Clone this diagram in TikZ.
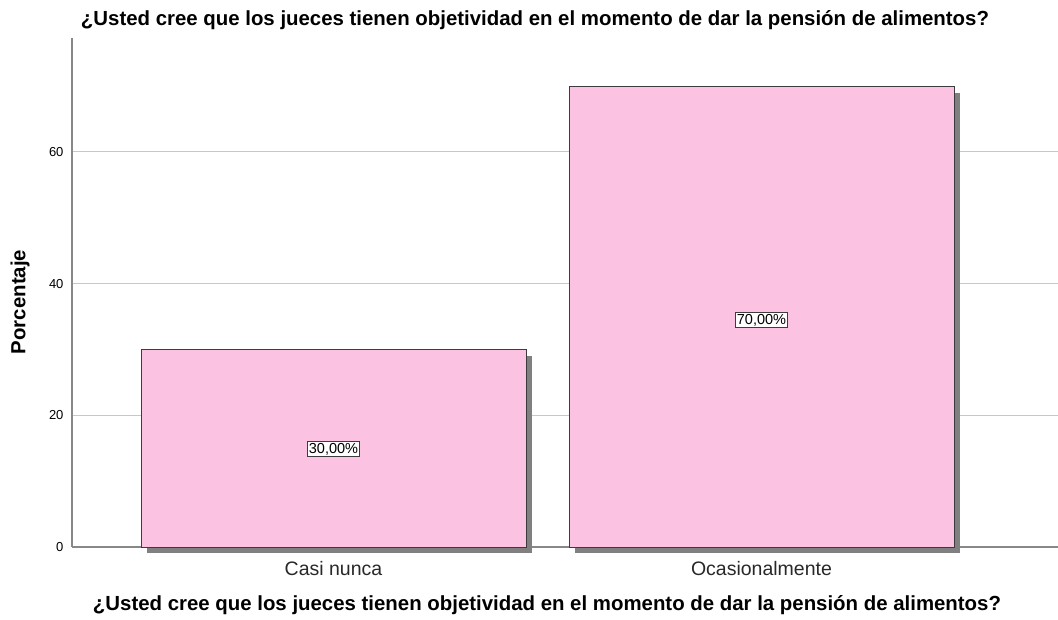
\documentclass[tikz,border=0pt]{standalone}
\usepackage{fontspec}
\setmainfont{Liberation Sans}

\definecolor{barpink}{RGB}{252,194,225}
\definecolor{shadowgray}{RGB}{128,128,128}
\definecolor{gridgray}{RGB}{200,200,200}
\definecolor{axisgray}{RGB}{136,136,136}
\definecolor{edgegray}{RGB}{60,60,60}
\definecolor{textgray}{RGB}{40,40,40}

\tikzset{
	gridline/.style={gridgray, line width=1pt},
	axisline/.style={axisgray, line width=1.2pt},
	barbox/.style={fill=barpink, draw=edgegray, line width=1pt},
	barshadow/.style={fill=shadowgray},
	valuelabel/.style={draw=edgegray, fill=white, font=\fontsize{14.5}{14.5}\selectfont, inner sep=1.6pt, line width=0.8pt},
	ticklabel/.style={anchor=east, font=\fontsize{13}{13}\selectfont},
	catlabel/.style={textgray, font=\fontsize{19.5}{20}\selectfont},
	titlelabel/.style={font=\bfseries\fontsize{20.4}{21}\selectfont}
}

\begin{document}
\begin{tikzpicture}[x=1pt, y=-1pt]

	\fill[white] (0,0) rectangle (1058,620);
	\useasboundingbox (0,0) rectangle (1058,620);

	\node[titlelabel] (title) at (535,20) {¿Usted cree que los jueces tienen objetividad en el momento de dar la pensión de alimentos?};

	\draw[gridline] (72,152) -- (1058,152);
	\draw[gridline] (72,284) -- (1058,284);
	\draw[gridline] (72,415) -- (1058,415);
	\draw[axisline] (72,547) -- (1058,547);
	\draw[axisline] (72,38) -- (72,547);

	\node[ticklabel] (t0) at (67,547) {0};
	\node[ticklabel] (t20) at (67,415) {20};
	\node[ticklabel] (t40) at (67,284) {40};
	\node[ticklabel] (t60) at (67,152) {60};

	\node[titlelabel, rotate=90] (ylab) at (20,302) {Porcentaje};

	% Casi nunca
	\fill[barshadow] (147,356) rectangle (532,553);
	\draw[barbox] (141,350) rectangle (526,547);
	\node[valuelabel] (v1) at (333.5,449) {30,00\%};
	\node[catlabel] (c1) at (333.5,569) {Casi nunca};

	% Ocasionalmente
	\fill[barshadow] (575,93) rectangle (960,553);
	\draw[barbox] (569,87) rectangle (954,547);
	\node[valuelabel] (v2) at (761.5,320) {70,00\%};
	\node[catlabel] (c2) at (761.5,569) {Ocasionalmente};

	\node[titlelabel] (xlab) at (547,605) {¿Usted cree que los jueces tienen objetividad en el momento de dar la pensión de alimentos?};

\end{tikzpicture}
\end{document}
